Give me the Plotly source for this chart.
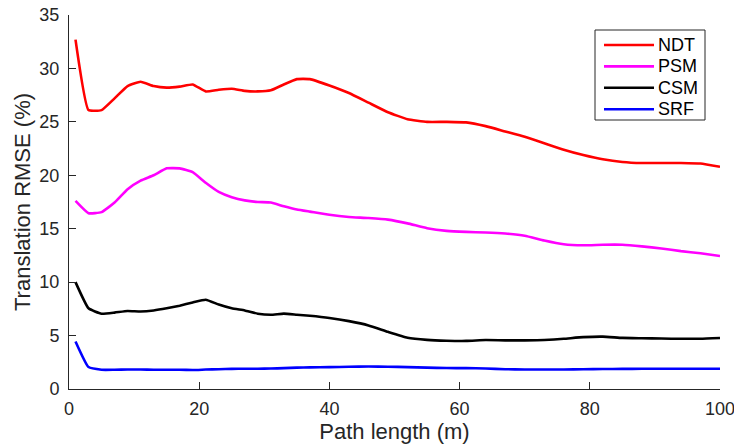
import plotly.graph_objects as go

path_length = [1, 3, 5, 7, 9, 11, 13, 15, 17, 19, 21, 23, 25, 27, 29, 31, 33, 35, 37, 40,
               43, 46, 49, 52, 55, 58, 61, 64, 67, 70, 73, 76, 79, 82, 85, 88, 91, 94, 97, 100]

ndt = [32.7, 26.1, 26.1, 27.2, 28.35, 28.75, 28.35, 28.2, 28.3, 28.5, 27.85, 28.0, 28.1, 27.9,
       27.85, 27.95, 28.5, 29.0, 29.0, 28.4, 27.7, 26.8, 25.9, 25.25, 25.0, 25.0, 24.95, 24.6,
       24.1, 23.6, 23.0, 22.4, 21.9, 21.5, 21.25, 21.15, 21.15, 21.15, 21.1, 20.8]

psm = [17.6, 16.45, 16.55, 17.45, 18.7, 19.5, 20.0, 20.65, 20.65, 20.3, 19.3, 18.45, 17.95,
       17.65, 17.5, 17.45, 17.1, 16.8, 16.6, 16.3, 16.1, 16.0, 15.85, 15.5, 15.05, 14.8, 14.7,
       14.65, 14.55, 14.35, 13.9, 13.55, 13.45, 13.5, 13.5, 13.35, 13.15, 12.9, 12.7, 12.45]

csm = [10.0, 7.55, 7.05, 7.15, 7.3, 7.25, 7.35, 7.55, 7.8, 8.1, 8.35, 7.9, 7.55, 7.35, 7.05,
       6.95, 7.05, 6.95, 6.85, 6.65, 6.35, 5.95, 5.35, 4.8, 4.6, 4.52, 4.5, 4.58, 4.55, 4.55,
       4.58, 4.7, 4.85, 4.9, 4.78, 4.75, 4.72, 4.7, 4.7, 4.77]

srf = [4.45, 2.05, 1.8, 1.8, 1.82, 1.82, 1.8, 1.8, 1.8, 1.78, 1.82, 1.85, 1.88, 1.9, 1.9, 1.92,
       1.95, 2.0, 2.02, 2.05, 2.08, 2.1, 2.08, 2.05, 2.0, 1.96, 1.95, 1.92, 1.85, 1.82, 1.82,
       1.83, 1.85, 1.87, 1.88, 1.89, 1.9, 1.9, 1.9, 1.9]

series_names = ["NDT", "PSM", "CSM", "SRF"]
series_values = [ndt, psm, csm, srf]
series_colors = ["#ff0000", "#ff00ff", "#000000", "#0000ff"]

x_ticks = [0, 20, 40, 60, 80, 100]
y_ticks = [0, 5, 10, 15, 20, 25, 30, 35]

W, H = 734, 447
ML, MR, MT, MB = 69, 14, 15, 58
PW, PH = W - ML - MR, H - MT - MB


def px2paper_x(px):
    return (px - ML) / PW


def px2paper_y(py):
    return (H - MB - py) / PH


fig = go.Figure()
for name, vals, col in zip(series_names, series_values, series_colors):
    fig.add_trace(go.Scatter(x=path_length, y=vals, mode="lines", name=name,
                             line=dict(color=col, width=2.6, shape="spline", smoothing=0.4),
                             showlegend=False))

font_family = "Liberation Sans, Arial, Helvetica, sans-serif"
axis_common = dict(showgrid=False, zeroline=False, showline=True, linecolor="#262626",
                   linewidth=1, ticks="inside", ticklen=7, tickcolor="#262626", tickwidth=1,
                   ticklabeloverflow="allow", automargin=False,
                   tickfont=dict(size=18, color="#262626", family=font_family))

# legend box (manual, MATLAB-style compact)
shapes = [dict(type="rect", xref="paper", yref="paper",
               x0=px2paper_x(595), x1=px2paper_x(705),
               y0=px2paper_y(120), y1=px2paper_y(30),
               line=dict(color="#262626", width=1), fillcolor="white", layer="above")]
annotations = []
row0, step = 45.0, 21.4
for i, (name, col) in enumerate(zip(series_names, series_colors)):
    yc = px2paper_y(row0 + i * step)
    shapes.append(dict(type="line", xref="paper", yref="paper",
                       x0=px2paper_x(604), x1=px2paper_x(654), y0=yc, y1=yc,
                       line=dict(color=col, width=2.6), layer="above"))
    annotations.append(dict(xref="paper", yref="paper", x=px2paper_x(656), y=yc,
                            xanchor="left", yanchor="middle", text=name, showarrow=False,
                            font=dict(size=18, color="#000000", family=font_family)))

fig.update_layout(
    width=W, height=H,
    margin=dict(l=ML, r=MR, t=MT, b=MB, autoexpand=False),
    paper_bgcolor="white", plot_bgcolor="white",
    font=dict(family=font_family, color="#262626"),
    xaxis=dict(range=[0, 100], tickvals=x_ticks, ticklabelstandoff=3,
               title=dict(text="Path length (m)", font=dict(size=22, color="#262626"), standoff=0),
               **axis_common),
    yaxis=dict(range=[0, 35], tickvals=y_ticks, ticklabelstandoff=5,
               title=dict(text="Translation RMSE (%)", font=dict(size=22, color="#262626"), standoff=2),
               **axis_common),
    shapes=shapes,
    annotations=annotations,
    showlegend=False,
)

fig.write_html("out.html")
